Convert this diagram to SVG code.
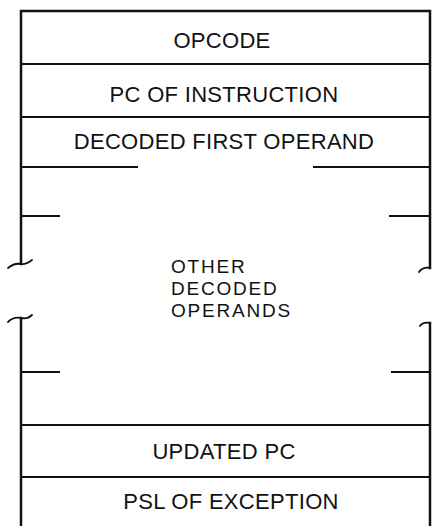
<svg xmlns="http://www.w3.org/2000/svg" width="434" height="526" viewBox="0 0 434 526">
<style>
.b{stroke:#111;stroke-width:2.5;fill:none;stroke-linecap:square}
.h{stroke:#111;stroke-width:1.8;fill:none}
.c{stroke:#111;stroke-width:1.8;fill:none;stroke-linecap:round}
text{font-family:"Liberation Sans",Arial,sans-serif;font-size:22px;fill:#111;letter-spacing:0.3px}
.m{text-anchor:middle}
.s{font-size:19px;letter-spacing:1.8px}
</style>
<rect width="434" height="526" fill="#fff"/>
<g id="frame">
<path class="b" d="M21,264 V11 H430 V268"/>
<path class="b" d="M21,318 V526"/>
<path class="b" d="M430,323 V526"/>
<path class="c" d="M8,268 C13,264 16,263 21,264 C25,265 28,263 32,260"/>
<path class="c" d="M8,322 C12,318 16,317 21,318 C26,319 29,318 32,315"/>
<path class="c" d="M419,272 C422,268 425,267 430,268"/>
<path class="c" d="M420,326 C422,323 425,322 430,323"/>
</g>
<g id="opcode">
<line class="h" x1="21" y1="64" x2="430" y2="64"/>
<text class="m" x="222" y="48">OPCODE</text>
</g>
<g id="pc-of-instruction">
<line class="h" x1="21" y1="117" x2="430" y2="117"/>
<text class="m" x="224" y="102">PC OF INSTRUCTION</text>
</g>
<g id="decoded-first-operand">
<line class="h" x1="21" y1="167" x2="138" y2="167"/>
<line class="h" x1="313" y1="167" x2="430" y2="167"/>
<text class="m" x="224" y="149">DECODED FIRST OPERAND</text>
</g>
<g id="other-decoded-operands">
<line class="h" x1="21" y1="216" x2="60" y2="216"/>
<line class="h" x1="389" y1="216" x2="430" y2="216"/>
<line class="h" x1="21" y1="372" x2="60" y2="372"/>
<line class="h" x1="391" y1="372" x2="430" y2="372"/>
<text class="s" x="171" y="273">OTHER</text>
<text class="s" x="171" y="295">DECODED</text>
<text class="s" x="171" y="317">OPERANDS</text>
</g>
<g id="updated-pc">
<line class="h" x1="21" y1="425" x2="430" y2="425"/>
<text class="m" x="224" y="459">UPDATED PC</text>
</g>
<g id="psl-of-exception">
<line class="h" x1="21" y1="477" x2="430" y2="477"/>
<text class="m" x="231" y="509">PSL OF EXCEPTION</text>
</g>
<g id="connectors"></g>
</svg>
